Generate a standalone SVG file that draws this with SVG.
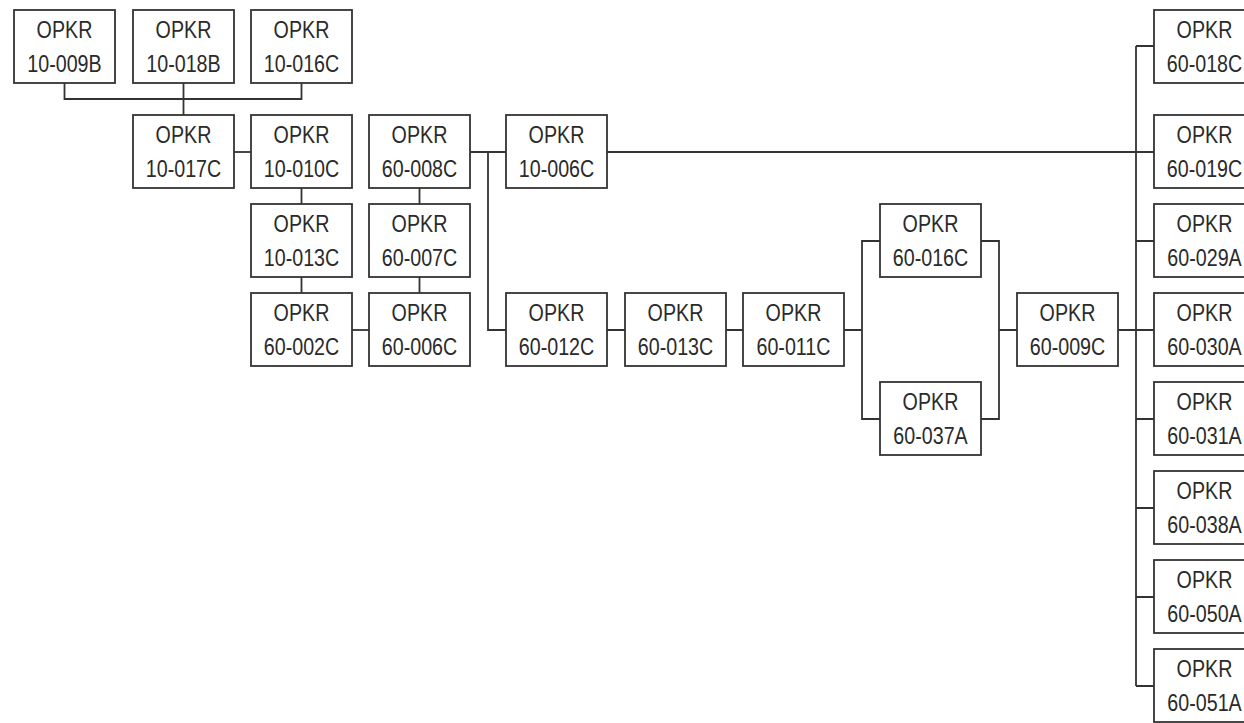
<svg xmlns="http://www.w3.org/2000/svg" width="1244" height="723" viewBox="0 0 1244 723">
<style>
rect.b { fill: #fff; stroke: #333; stroke-width: 1.8; }
text { font-family: "Liberation Sans", Arial, sans-serif; font-size: 24px; fill: #2a2a2a; text-anchor: middle; transform-box: fill-box; transform-origin: center; transform: scaleX(0.82); }
#connectors path { fill: none; stroke: #333; stroke-width: 1.8; }
</style>
<rect width="1244" height="723" fill="#fff"/>
<g id="connectors">
<path d="M64.5 83 V99 H301.5 V83 M183.5 83 V115"/>
<path d="M234 152 H251"/>
<path d="M301.5 188 V204 M301.5 277 V293"/>
<path d="M352 330 H369"/>
<path d="M419.5 293 V277 M419.5 204 V188"/>
<path d="M470 152 H506 M488 152 V330 H506"/>
<path d="M607 152 H1154"/>
<path d="M607 330 H625 M726 330 H743"/>
<path d="M844 330 H862 M880 241 H862 V419 H880"/>
<path d="M981 241 H999 V419 H981 M999 330 H1017"/>
<path d="M1118 330 H1154"/>
<path d="M1136 46 V686 M1136 46 H1154 M1136 241 H1154 M1136 419 H1154 M1136 508 H1154 M1136 597 H1154 M1136 686 H1154"/>
</g>
<g id="n10-009B" transform="translate(14,10)"><rect class="b" width="101" height="73"/><text x="50.5" y="28.5">OPKR</text><text x="50.5" y="61.7">10-009B</text></g>
<g id="n10-018B" transform="translate(133,10)"><rect class="b" width="101" height="73"/><text x="50.5" y="28.5">OPKR</text><text x="50.5" y="61.7">10-018B</text></g>
<g id="n10-016C" transform="translate(251,10)"><rect class="b" width="101" height="73"/><text x="50.5" y="28.5">OPKR</text><text x="50.5" y="61.7">10-016C</text></g>
<g id="n10-017C" transform="translate(133,115)"><rect class="b" width="101" height="73"/><text x="50.5" y="28.5">OPKR</text><text x="50.5" y="61.7">10-017C</text></g>
<g id="n10-010C" transform="translate(251,115)"><rect class="b" width="101" height="73"/><text x="50.5" y="28.5">OPKR</text><text x="50.5" y="61.7">10-010C</text></g>
<g id="n10-013C" transform="translate(251,204)"><rect class="b" width="101" height="73"/><text x="50.5" y="28.5">OPKR</text><text x="50.5" y="61.7">10-013C</text></g>
<g id="n60-002C" transform="translate(251,293)"><rect class="b" width="101" height="73"/><text x="50.5" y="28.5">OPKR</text><text x="50.5" y="61.7">60-002C</text></g>
<g id="n60-008C" transform="translate(369,115)"><rect class="b" width="101" height="73"/><text x="50.5" y="28.5">OPKR</text><text x="50.5" y="61.7">60-008C</text></g>
<g id="n60-007C" transform="translate(369,204)"><rect class="b" width="101" height="73"/><text x="50.5" y="28.5">OPKR</text><text x="50.5" y="61.7">60-007C</text></g>
<g id="n60-006C" transform="translate(369,293)"><rect class="b" width="101" height="73"/><text x="50.5" y="28.5">OPKR</text><text x="50.5" y="61.7">60-006C</text></g>
<g id="n10-006C" transform="translate(506,115)"><rect class="b" width="101" height="73"/><text x="50.5" y="28.5">OPKR</text><text x="50.5" y="61.7">10-006C</text></g>
<g id="n60-012C" transform="translate(506,293)"><rect class="b" width="101" height="73"/><text x="50.5" y="28.5">OPKR</text><text x="50.5" y="61.7">60-012C</text></g>
<g id="n60-013C" transform="translate(625,293)"><rect class="b" width="101" height="73"/><text x="50.5" y="28.5">OPKR</text><text x="50.5" y="61.7">60-013C</text></g>
<g id="n60-011C" transform="translate(743,293)"><rect class="b" width="101" height="73"/><text x="50.5" y="28.5">OPKR</text><text x="50.5" y="61.7">60-011C</text></g>
<g id="n60-016C" transform="translate(880,204)"><rect class="b" width="101" height="73"/><text x="50.5" y="28.5">OPKR</text><text x="50.5" y="61.7">60-016C</text></g>
<g id="n60-037A" transform="translate(880,382)"><rect class="b" width="101" height="73"/><text x="50.5" y="28.5">OPKR</text><text x="50.5" y="61.7">60-037A</text></g>
<g id="n60-009C" transform="translate(1017,293)"><rect class="b" width="101" height="73"/><text x="50.5" y="28.5">OPKR</text><text x="50.5" y="61.7">60-009C</text></g>
<g id="n60-018C" transform="translate(1154,10)"><rect class="b" width="101" height="73"/><text x="50.5" y="28.5">OPKR</text><text x="50.5" y="61.7">60-018C</text></g>
<g id="n60-019C" transform="translate(1154,115)"><rect class="b" width="101" height="73"/><text x="50.5" y="28.5">OPKR</text><text x="50.5" y="61.7">60-019C</text></g>
<g id="n60-029A" transform="translate(1154,204)"><rect class="b" width="101" height="73"/><text x="50.5" y="28.5">OPKR</text><text x="50.5" y="61.7">60-029A</text></g>
<g id="n60-030A" transform="translate(1154,293)"><rect class="b" width="101" height="73"/><text x="50.5" y="28.5">OPKR</text><text x="50.5" y="61.7">60-030A</text></g>
<g id="n60-031A" transform="translate(1154,382)"><rect class="b" width="101" height="73"/><text x="50.5" y="28.5">OPKR</text><text x="50.5" y="61.7">60-031A</text></g>
<g id="n60-038A" transform="translate(1154,471)"><rect class="b" width="101" height="73"/><text x="50.5" y="28.5">OPKR</text><text x="50.5" y="61.7">60-038A</text></g>
<g id="n60-050A" transform="translate(1154,560)"><rect class="b" width="101" height="73"/><text x="50.5" y="28.5">OPKR</text><text x="50.5" y="61.7">60-050A</text></g>
<g id="n60-051A" transform="translate(1154,649)"><rect class="b" width="101" height="73"/><text x="50.5" y="28.5">OPKR</text><text x="50.5" y="61.7">60-051A</text></g>
</svg>
